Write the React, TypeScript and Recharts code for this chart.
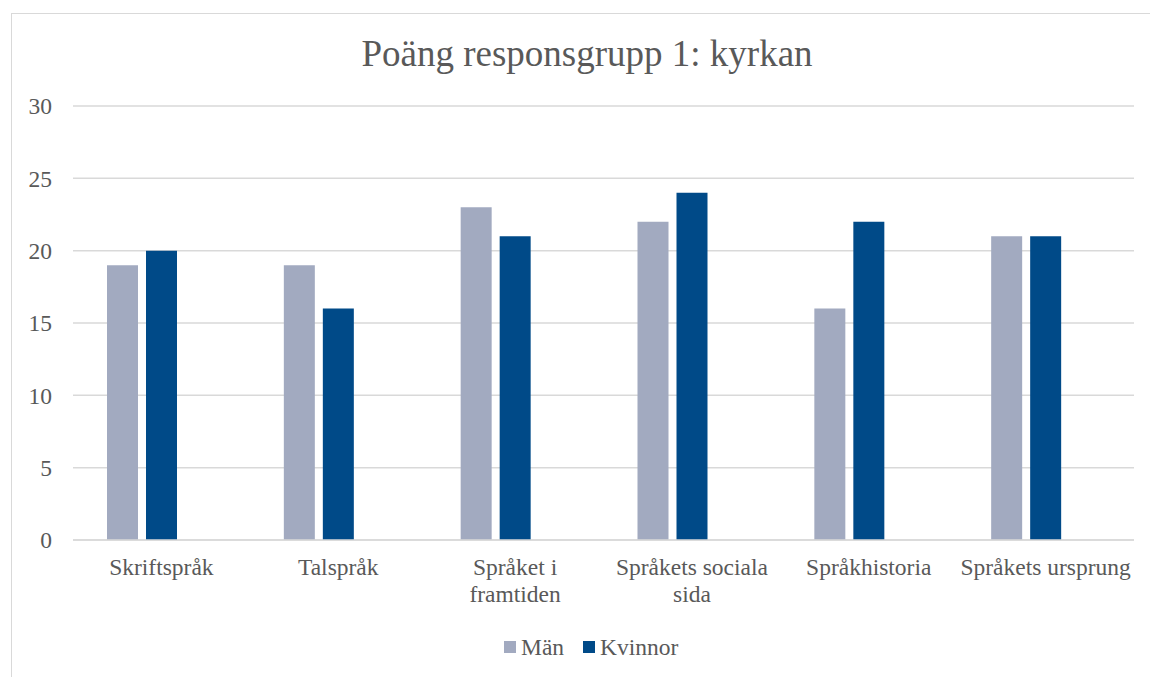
import React from "react";
import { BarChart, Bar, XAxis, YAxis, CartesianGrid, Legend } from "recharts";

const categories = [
  "Skriftspråk",
  "Talspråk",
  "Språket i framtiden",
  "Språkets sociala sida",
  "Språkhistoria",
  "Språkets ursprung",
];
const tickLabelLines = [
  ["Skriftspråk"],
  ["Talspråk"],
  ["Språket i", "framtiden"],
  ["Språkets sociala", "sida"],
  ["Språkhistoria"],
  ["Språkets ursprung"],
];
const seriesNames = ["Män", "Kvinnor"];
const man = [19, 19, 23, 22, 16, 21];
const kvinnor = [20, 16, 21, 24, 22, 21];
const yTicks = [0, 5, 10, 15, 20, 25, 30];
const title = "Poäng responsgrupp 1: kyrkan";

const data = categories.map((c, i) => ({ name: c, "Män": man[i], Kvinnor: kvinnor[i] }));

const FONT = "Liberation Serif, Times New Roman, serif";
const TEXT = "#595959";
const GRID = "#d9d9d9";
const C_MAN = "#A2AAC0";
const C_KV = "#004A88";

const XTick = (props: any) => {
  const { x, y, payload } = props;
  const idx = categories.indexOf(payload.value);
  const lines = idx >= 0 ? tickLabelLines[idx] : [String(payload.value)];
  return (
    <text
      x={x}
      y={y}
      textAnchor="middle"
      style={{ fontFamily: FONT, fontSize: 23.5, fill: TEXT }}
    >
      {lines.map((l, i) => (
        <tspan key={i} x={x} dy={i === 0 ? 17 : 27}>
          {l}
        </tspan>
      ))}
    </text>
  );
};

const LegendContent = (props: any) => {
  const items = (props.payload || [])
    .filter((p: any) => seriesNames.indexOf(p.value) >= 0)
    .sort((a: any, b: any) => seriesNames.indexOf(a.value) - seriesNames.indexOf(b.value));
  return (
    <div style={{ position: "relative", height: 30 }}>
      <div style={{ position: "absolute", left: 504, top: 0, display: "flex", alignItems: "center", whiteSpace: "nowrap" }}>
        {items.map((p: any, i: number) => (
          <div key={i} style={{ display: "flex", alignItems: "center", marginRight: 19 }}>
            <span style={{ display: "inline-block", width: 12, height: 12, background: p.color, marginRight: 5 }} />
            <span style={{ fontFamily: FONT, fontSize: 23.5, color: TEXT, lineHeight: "30px" }}>{p.value}</span>
          </div>
        ))}
      </div>
    </div>
  );
};

export default function App() {
  return (
    <div style={{ position: "fixed", left: 0, top: 0, width: 1150, height: 677, background: "#fff", overflow: "hidden", fontFamily: FONT }}>
      <div
        style={{
          position: "absolute",
          left: 11,
          top: 13,
          width: 1200,
          height: 700,
          borderLeft: "1.5px solid " + GRID,
          borderTop: "1.5px solid " + GRID,
        }}
      />
      <div
        style={{
          position: "absolute",
          left: 287,
          width: 600,
          top: 32,
          textAlign: "center",
          fontFamily: FONT,
          fontSize: 37,
          color: TEXT,
          lineHeight: "44px",
          whiteSpace: "nowrap",
        }}
      >
        {title}
      </div>
      <div style={{ position: "absolute", left: 0, top: 0 }}>
        <BarChart
          width={1150}
          height={677}
          data={data}
          margin={{ top: 106, right: 16, bottom: 106, left: 0 }}
          barSize={31}
          barGap={8}
        >
          <CartesianGrid vertical={false} stroke={GRID} strokeWidth={1.5} />
          <XAxis
            dataKey="name"
            axisLine={{ stroke: GRID, strokeWidth: 1.5 }}
            tickLine={false}
            tickSize={0}
            tickMargin={18}
            interval={0}
            height={1}
            tick={<XTick />}
          />
          <YAxis
            width={73}
            domain={[0, 30]}
            ticks={yTicks}
            axisLine={false}
            tickLine={false}
            tickSize={0}
            tickMargin={21}
            tick={{ fontFamily: FONT, fontSize: 23.5, fill: TEXT }}
          />
          <Legend
            verticalAlign="bottom"
            wrapperStyle={{ position: "absolute", left: 0, top: 632, width: 1150, height: 30 }}
            content={<LegendContent />}
          />
          <Bar dataKey="Män" fill={C_MAN} isAnimationActive={false} />
          <Bar dataKey="Kvinnor" fill={C_KV} isAnimationActive={false} />
          <Bar dataKey="Serie3" fill="transparent" legendType="none" isAnimationActive={false} />
        </BarChart>
      </div>
    </div>
  );
}
